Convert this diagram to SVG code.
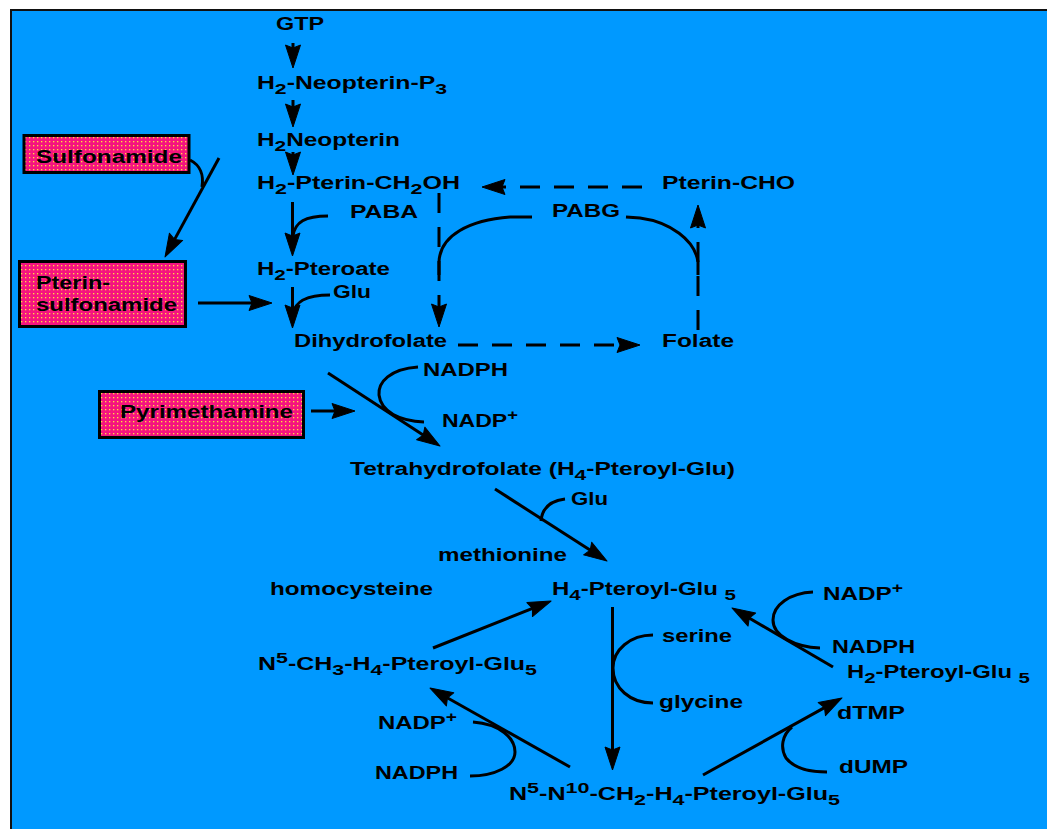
<svg xmlns="http://www.w3.org/2000/svg" width="1047" height="829" viewBox="0 0 1047 829">
<defs>
<style>
.t{font-family:"Liberation Sans",Arial,Helvetica,sans-serif;font-weight:bold;font-size:17.5px;fill:#000}
.ln{fill:none;stroke:#000;stroke-width:3}
.ar{fill:none;stroke:#000;stroke-width:3;marker-end:url(#ah)}
.da{fill:none;stroke:#000;stroke-width:3;stroke-dasharray:20 14;marker-end:url(#ah)}
.box{fill:url(#dots);stroke:#000;stroke-width:3}
</style>
<pattern id="dots" width="4" height="4" patternUnits="userSpaceOnUse">
<rect width="4" height="4" fill="#F5147F"/>
<rect x="1" y="1" width="1.3" height="1.3" fill="#FFE040"/>
</pattern>
<marker id="ah" markerUnits="userSpaceOnUse" viewBox="-30 -10 32 20" markerWidth="32" markerHeight="20" refX="-5" refY="0" orient="auto">
<path d="M0,0 L-23,-7.5 L-20,0 L-23,7.5 Z" fill="#000" stroke="#000" stroke-width="1" stroke-linejoin="round"/>
</marker>
</defs>
<rect x="0" y="0" width="1047" height="829" fill="#fff"/>
<rect x="11" y="10" width="1045" height="830" fill="#0099FF" stroke="#111" stroke-width="2"/>

<g id="connectors">
<line class="ar" x1="293" y1="43" x2="293" y2="63"/>
<line class="ar" x1="293" y1="100" x2="293" y2="122"/>
<line class="ar" x1="293" y1="152" x2="293" y2="170"/>
<path class="ln" d="M190,160 C200,165 204,175 202,187"/>
<line class="ar" x1="219" y1="158" x2="167.4" y2="252.6"/>
<line class="ar" x1="198" y1="303" x2="267" y2="303"/>
<line class="ar" x1="292.5" y1="202" x2="292.5" y2="251"/>
<path class="ln" d="M328,216 C305,216 295,222 293,236"/>
<line class="ar" x1="292.5" y1="287" x2="292.5" y2="323"/>
<path class="ln" d="M330,295 C305,295 295,302 293,314"/>
<line class="da" x1="642" y1="187" x2="487" y2="187"/>
<line class="da" x1="439" y1="193" x2="439" y2="322"/>
<line class="da" x1="458" y1="345" x2="635" y2="345"/>
<line class="da" x1="698" y1="330" x2="698" y2="210"/>
<path class="ln" d="M532,217 L510,217 C470,220 440,235 439,262 L439,275"/>
<path class="ln" d="M626,217 L640,218 C670,222 695,240 698,262 L698,275"/>
<line class="ar" x1="311" y1="411" x2="350" y2="411"/>
<line class="ar" x1="328" y1="373" x2="435.8" y2="443.3"/>
<path class="ln" d="M418,367 C390,369 378,382 379,395 C381,412 400,421 424,422"/>
<line class="ar" x1="495" y1="489" x2="602.8" y2="558.3"/>
<path class="ln" d="M565,499 C548,501 542,510 541,521"/>
<line class="ar" x1="433" y1="648" x2="546.4" y2="602.9"/>
<line class="ar" x1="612.5" y1="607" x2="612.5" y2="765"/>
<path class="ln" d="M653,635 C630,635 613,650 613,668 C613,688 630,703 653,703"/>
<line class="ar" x1="833" y1="667" x2="736.3" y2="610.5"/>
<path class="ln" d="M813,592 C790,593 773,605 773,620 C773,636 795,647 820,648"/>
<line class="ar" x1="703" y1="775" x2="837.6" y2="700.4"/>
<path class="ln" d="M792,727 C782,735 780,748 786,758 C794,768 810,772 827,772"/>
<line class="ar" x1="570" y1="767" x2="434.4" y2="690.5"/>
<path class="ln" d="M473,722 C500,724 515,738 515,752 C515,766 495,776 470,776"/>
</g>

<g id="gtp"><text class="t" x="276" y="30" textLength="48" lengthAdjust="spacingAndGlyphs">GTP</text></g>
<g id="h2-neopterin-p3"><text class="t" x="257" y="89" textLength="190" lengthAdjust="spacingAndGlyphs">H<tspan dy="5" font-size="15">2</tspan><tspan dy="-5">-Neopterin-P</tspan><tspan dy="5" font-size="15">3</tspan></text></g>
<g id="h2neopterin"><text class="t" x="257" y="146" textLength="143" lengthAdjust="spacingAndGlyphs">H<tspan dy="5" font-size="15">2</tspan><tspan dy="-5">Neopterin</tspan></text></g>
<g id="h2-pterin-ch2oh"><text class="t" x="257" y="189" textLength="203" lengthAdjust="spacingAndGlyphs">H<tspan dy="5" font-size="15">2</tspan><tspan dy="-5">-Pterin-CH</tspan><tspan dy="5" font-size="15">2</tspan><tspan dy="-5">OH</tspan></text></g>
<g id="sulfonamide"><rect class="box" x="24" y="135.5" width="165" height="37"/><text class="t" x="36" y="163" textLength="146" lengthAdjust="spacingAndGlyphs">Sulfonamide</text></g>
<g id="paba"><text class="t" x="350" y="218" textLength="68" lengthAdjust="spacingAndGlyphs">PABA</text></g>
<g id="pterin-cho"><text class="t" x="662" y="189" textLength="133" lengthAdjust="spacingAndGlyphs">Pterin-CHO</text></g>
<g id="pabg"><text class="t" x="552" y="217" textLength="68" lengthAdjust="spacingAndGlyphs">PABG</text></g>
<g id="h2-pteroate"><text class="t" x="257" y="275" textLength="133" lengthAdjust="spacingAndGlyphs">H<tspan dy="5" font-size="15">2</tspan><tspan dy="-5">-Pteroate</tspan></text></g>
<g id="pterin-sulfonamide"><rect class="box" x="19.5" y="261.5" width="166" height="65"/><text class="t" x="36" y="289" textLength="74" lengthAdjust="spacingAndGlyphs">Pterin-</text><text class="t" x="36" y="311" textLength="141" lengthAdjust="spacingAndGlyphs">sulfonamide</text></g>
<g id="glu1"><text class="t" x="333" y="298" textLength="38" lengthAdjust="spacingAndGlyphs">Glu</text></g>
<g id="dihydrofolate"><text class="t" x="294" y="347" textLength="153" lengthAdjust="spacingAndGlyphs">Dihydrofolate</text></g>
<g id="folate"><text class="t" x="662" y="347" textLength="72" lengthAdjust="spacingAndGlyphs">Folate</text></g>
<g id="pyrimethamine"><rect class="box" x="99.5" y="391.5" width="204" height="46"/><text class="t" x="120" y="418" textLength="173" lengthAdjust="spacingAndGlyphs">Pyrimethamine</text></g>
<g id="nadph1"><text class="t" x="423" y="376" textLength="85" lengthAdjust="spacingAndGlyphs">NADPH</text></g>
<g id="nadp1"><text class="t" x="442" y="427" textLength="76" lengthAdjust="spacingAndGlyphs">NADP<tspan dy="-7" font-size="14">+</tspan></text></g>
<g id="tetrahydrofolate"><text class="t" x="350" y="475" textLength="385" lengthAdjust="spacingAndGlyphs">Tetrahydrofolate (H<tspan dy="5" font-size="15">4</tspan><tspan dy="-5">-Pteroyl-Glu)</tspan></text></g>
<g id="glu2"><text class="t" x="571" y="505" textLength="37" lengthAdjust="spacingAndGlyphs">Glu</text></g>
<g id="methionine"><text class="t" x="438" y="561" textLength="129" lengthAdjust="spacingAndGlyphs">methionine</text></g>
<g id="homocysteine"><text class="t" x="270" y="595" textLength="163" lengthAdjust="spacingAndGlyphs">homocysteine</text></g>
<g id="h4-pteroyl-glu5"><text class="t" x="552" y="595" textLength="184" lengthAdjust="spacingAndGlyphs">H<tspan dy="5" font-size="15">4</tspan><tspan dy="-5">-Pteroyl-Glu </tspan><tspan dy="5" font-size="15">5</tspan></text></g>
<g id="nadp2"><text class="t" x="823" y="600" textLength="80" lengthAdjust="spacingAndGlyphs">NADP<tspan dy="-7" font-size="14">+</tspan></text></g>
<g id="serine"><text class="t" x="662" y="642" textLength="70" lengthAdjust="spacingAndGlyphs">serine</text></g>
<g id="nadph2"><text class="t" x="832" y="653" textLength="83" lengthAdjust="spacingAndGlyphs">NADPH</text></g>
<g id="n5-ch3"><text class="t" x="258" y="670" textLength="279" lengthAdjust="spacingAndGlyphs">N<tspan dy="-7" font-size="15">5</tspan><tspan dy="7">-CH</tspan><tspan dy="5" font-size="15">3</tspan><tspan dy="-5">-H</tspan><tspan dy="5" font-size="15">4</tspan><tspan dy="-5">-Pteroyl-Glu</tspan><tspan dy="5" font-size="15">5</tspan></text></g>
<g id="h2-pteroyl-glu5"><text class="t" x="847" y="678" textLength="183" lengthAdjust="spacingAndGlyphs">H<tspan dy="5" font-size="15">2</tspan><tspan dy="-5">-Pteroyl-Glu </tspan><tspan dy="5" font-size="15">5</tspan></text></g>
<g id="glycine"><text class="t" x="659" y="708" textLength="84" lengthAdjust="spacingAndGlyphs">glycine</text></g>
<g id="dtmp"><text class="t" x="837" y="719" textLength="68" lengthAdjust="spacingAndGlyphs">dTMP</text></g>
<g id="nadp3"><text class="t" x="378" y="729" textLength="79" lengthAdjust="spacingAndGlyphs">NADP<tspan dy="-7" font-size="14">+</tspan></text></g>
<g id="dump"><text class="t" x="839" y="773" textLength="69" lengthAdjust="spacingAndGlyphs">dUMP</text></g>
<g id="nadph3"><text class="t" x="375" y="779" textLength="83" lengthAdjust="spacingAndGlyphs">NADPH</text></g>
<g id="n5-n10"><text class="t" x="509" y="800" textLength="331" lengthAdjust="spacingAndGlyphs">N<tspan dy="-7" font-size="15">5</tspan><tspan dy="7">-N</tspan><tspan dy="-7" font-size="15">10</tspan><tspan dy="7">-CH</tspan><tspan dy="5" font-size="15">2</tspan><tspan dy="-5">-H</tspan><tspan dy="5" font-size="15">4</tspan><tspan dy="-5">-Pteroyl-Glu</tspan><tspan dy="5" font-size="15">5</tspan></text></g>
</svg>
